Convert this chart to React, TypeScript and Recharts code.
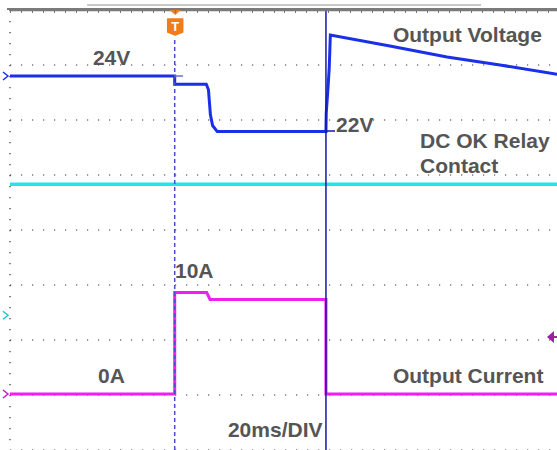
// Scope capture: output voltage / DC OK relay / output current at 20ms/div
import {
  ComposedChart,
  Line,
  XAxis,
  YAxis,
  CartesianGrid,
  ReferenceLine,
  ReferenceDot,
} from 'recharts';

// time in ms, trigger at 0
const majorTimeTicks = [-60, -40, -20, 0, 20, 40, 60, 80, 100, 120, 140];
const divTicks = [0, 1, 2, 3, 4, 5, 6, 7, 8];

// output voltage (V)
const voltTime = [-60, 0, 0, 11.5, 12.3, 13.0, 13.8, 15.5, 55.1, 55.2, 55.8, 56.3, 56.7, 78.4, 99.2, 118.5, 140];
const voltValues = [24.0, 24.0, 23.7, 23.7, 23.5, 22.6, 22.2, 21.98, 21.98, 22.65, 23.5, 24.3, 25.49, 25.09, 24.69, 24.4, 24.05];

// DC OK relay contact (divisions)
const relayTime = [-60, 140];
const relayValues = [4.83, 4.83];

// output current (A)
const currentTime = [-60, 0, 0, 11.66, 12.86, 55.1, 55.1, 140];
const currentValues = [0, 0, 9.23, 9.23, 8.6, 8.6, 0, 0];

const cursorTime = 55.1;
const triggerLevel = 5.18;

const voltData = voltTime.map((t, i) => ({ t, v: voltValues[i] }));
const relayData = relayTime.map((t, i) => ({ t, v: relayValues[i] }));
const currentData = currentTime.map((t, i) => ({ t, v: currentValues[i] }));

// minor (1/5 division) tick positions for the frame
const minorTimeTicks: number[] = [];
for (let t = -56; t < 140; t += 4) minorTimeTicks.push(t);
const minorDivTicks: number[] = [];
for (let d = 1; d < 40; d++) minorDivTicks.push(d / 5);

const FONT = '"Liberation Sans", Arial, sans-serif';
const TEXT = '#555555';
const FRAME = '#7a7a7a';

// text labels anchored in time / division space
const labels = [
  { text: '24V', t: -29.8, d: 7.0 },
  { text: 'Output Voltage', t: 79.5, d: 7.42 },
  { text: '22V', t: 58.8, d: 5.78 },
  { text: 'DC OK Relay', t: 89.4, d: 5.49 },
  { text: 'Contact', t: 89.4, d: 5.04 },
  { text: '10A', t: 0.1, d: 3.13 },
  { text: '0A', t: -27.9, d: 1.22 },
  { text: 'Output Current', t: 79.5, d: 1.22 },
  { text: '20ms/DIV', t: 19.4, d: 0.24 },
];

const textShape = (text: string) => (p: any) => (
  <text x={p.cx} y={p.cy} fill={TEXT} fontFamily={FONT} fontSize={21} fontWeight="bold">
    {text}
  </text>
);

const chevron = (color: string) => (p: any) => (
  <polyline
    points={`${p.cx - 7},${p.cy - 4} ${p.cx - 2},${p.cy} ${p.cx - 7},${p.cy + 4}`}
    fill="none"
    stroke={color}
    strokeWidth={1.5}
  />
);

const triggerLevelShape = (p: any) => (
  <g>
    <polygon points={`${p.cx - 12},${p.cy} ${p.cx - 5},${p.cy - 6} ${p.cx - 5},${p.cy + 6}`} fill="#a01ea6" />
    <line x1={p.cx - 6} y1={p.cy} x2={p.cx - 1} y2={p.cy} stroke="#a01ea6" strokeWidth={2} />
  </g>
);

const triggerShape = (p: any) => (
  <g>
    <polygon points={`${p.cx - 6},${p.cy - 1} ${p.cx + 7},${p.cy - 1} ${p.cx + 0.5},${p.cy + 5}`} fill="#f07d1c" />
    <path
      d={`M${p.cx - 7},${p.cy + 9} h15 v13 l-7.5,3 l-7.5,-3 z`}
      fill="#f07d1c"
      stroke="#f07d1c"
      strokeLinejoin="round"
      strokeWidth={1.5}
    />
    <text x={p.cx + 0.5} y={p.cy + 21} textAnchor="middle" fill="#fff" fontFamily={FONT} fontSize={13} fontWeight="bold">
      T
    </text>
  </g>
);

export default function App() {
  return (
    <div style={{ position: 'fixed', left: 0, top: 0, width: 557, height: 450, overflow: 'hidden', background: '#fff' }}>
      <ComposedChart width={560} height={451} margin={{ top: 0, right: 1, bottom: 1, left: 0 }}>
        <XAxis
          xAxisId="frame"
          type="number"
          orientation="top"
          height={10}
          domain={[-60, 140]}
          ticks={minorTimeTicks}
          allowDataOverflow
          tickSize={-4}
          tickLine={{ stroke: '#666', strokeWidth: 1 }}
          tick={false}
          axisLine={{ stroke: FRAME, strokeWidth: 2.5 }}
        />
        <YAxis
          yAxisId="frame"
          type="number"
          orientation="left"
          width={10}
          domain={[0, 8]}
          ticks={minorDivTicks}
          allowDataOverflow
          tickSize={-3}
          tickLine={{ stroke: '#666', strokeWidth: 1 }}
          tick={false}
          axisLine={{ stroke: FRAME, strokeWidth: 3 }}
        />
        <XAxis xAxisId="t" type="number" dataKey="t" domain={[-60, 140]} hide allowDataOverflow />
        <XAxis xAxisId="grid" type="number" domain={[-60, 140]} ticks={majorTimeTicks} hide allowDataOverflow />
        <YAxis yAxisId="div" type="number" domain={[0, 8]} hide allowDataOverflow />
        <YAxis yAxisId="grid" type="number" domain={[0, 8]} ticks={divTicks} hide allowDataOverflow />
        <YAxis yAxisId="v" type="number" domain={[10.4, 26.4]} hide allowDataOverflow />
        <YAxis yAxisId="i" type="number" domain={[-5.09, 34.91]} hide allowDataOverflow />

        {/* dotted division grid */}
        <CartesianGrid xAxisId="grid" yAxisId="grid" stroke="#333" strokeWidth={1.2} strokeDasharray="1.2 9.8" />

        {/* scope header bar */}
        <ReferenceLine
          xAxisId="t"
          yAxisId="div"
          segment={[{ x: -31.9, y: 8.09 }, { x: 111.6, y: 8.09 }]}
          stroke="#c8c8c8"
          strokeWidth={2}
          ifOverflow="visible"
        />

        {labels.map((l) => (
          <ReferenceDot key={l.text} xAxisId="t" yAxisId="div" x={l.t} y={l.d} r={1} shape={textShape(l.text)} ifOverflow="visible" />
        ))}

        <Line xAxisId="t" yAxisId="div" data={relayData} dataKey="v" type="linear" stroke="#1ee6f0" strokeWidth={3.5} dot={false} isAnimationActive={false} />
        <Line xAxisId="t" yAxisId="i" data={currentData} dataKey="v" type="linear" stroke="#f01ef0" strokeWidth={3} dot={false} isAnimationActive={false} />
        <Line xAxisId="t" yAxisId="v" data={voltData} dataKey="v" type="linear" stroke="#1a2fe8" strokeWidth={3} dot={false} isAnimationActive={false} />

        <ReferenceLine
          xAxisId="t"
          yAxisId="div"
          segment={[{ x: 0, y: 0 }, { x: 0, y: 7.5 }]}
          stroke="#4a4acc"
          strokeWidth={1.5}
          strokeDasharray="4 3"
        />
        <ReferenceLine xAxisId="t" yAxisId="div" x={cursorTime} stroke="#1616a8" strokeWidth={1.5} />
        <ReferenceLine xAxisId="t" yAxisId="v" segment={[{ x: 0, y: 24 }, { x: 3, y: 24 }]} stroke="#6070c8" strokeWidth={1.5} />
        <ReferenceLine xAxisId="t" yAxisId="v" segment={[{ x: cursorTime, y: 22 }, { x: 58.4, y: 22 }]} stroke="#1616a8" strokeWidth={1.5} />

        <ReferenceDot xAxisId="t" yAxisId="v" x={-60} y={24} r={1} shape={chevron('#1a2fe8')} ifOverflow="visible" />
        <ReferenceDot xAxisId="t" yAxisId="div" x={-60} y={2.45} r={1} shape={chevron('#1ec8d0')} ifOverflow="visible" />
        <ReferenceDot xAxisId="t" yAxisId="i" x={-60} y={0} r={1} shape={chevron('#c01ec8')} ifOverflow="visible" />
        <ReferenceDot xAxisId="t" yAxisId="i" x={140} y={triggerLevel} r={1} shape={triggerLevelShape} ifOverflow="visible" />
        <ReferenceDot xAxisId="t" yAxisId="div" x={0} y={8} r={1} shape={triggerShape} ifOverflow="visible" />
      </ComposedChart>
      {/* top frame edge drawn over the chart */}
      <div style={{ position: 'absolute', left: 7, top: 8, width: 560, height: 2, background: FRAME, zIndex: 2 }} />
      <div
        style={{
          position: 'absolute',
          left: 10,
          top: 10,
          width: 560,
          height: 3,
          zIndex: 2,
          background: 'repeating-linear-gradient(to right, #777 0px, #777 1px, transparent 1px, transparent 10.98px)',
        }}
      />
    </div>
  );
}
